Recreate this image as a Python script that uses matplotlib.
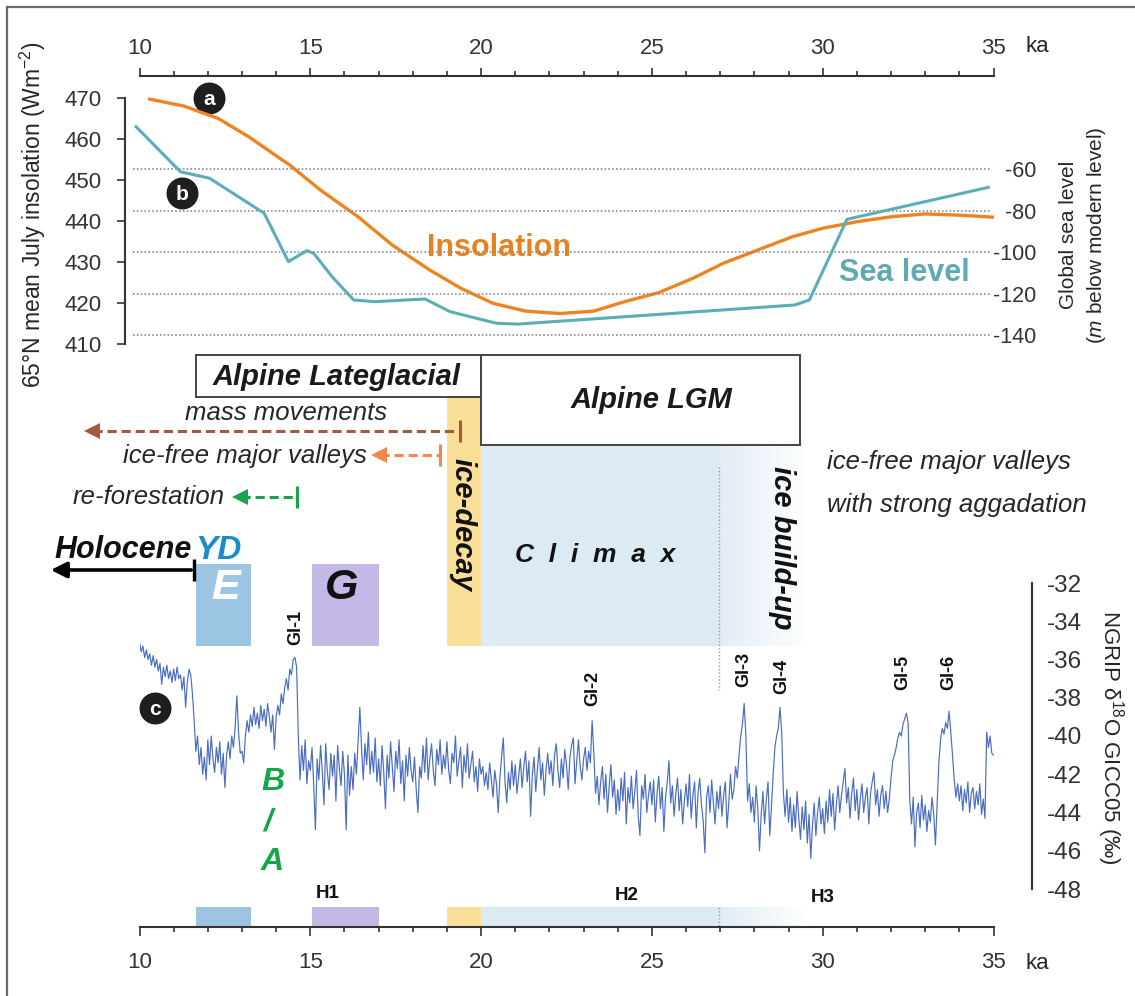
import numpy as np
import matplotlib
matplotlib.use('Agg')
import matplotlib.pyplot as plt
from matplotlib.patches import Rectangle
from matplotlib.colors import to_rgb

plt.rcParams['font.family'] = ['Liberation Sans', 'DejaVu Sans']
plt.rcParams['mathtext.fontset'] = 'custom'
plt.rcParams['mathtext.rm'] = 'Liberation Sans'
plt.rcParams['mathtext.it'] = 'Liberation Sans:italic'
plt.rcParams['axes.unicode_minus'] = False

# ---- data ----
# (a) 65N July insolation
ins_age = [10.3, 11.3, 12.3, 13.2, 14.4, 15.3, 16.4, 17.4, 18.5, 19.4, 20.35, 21.3, 22.3,
           23.3, 24.2, 25.2, 26.2, 27.1, 28.1, 29.1, 30.0, 31.0, 32.0, 33.0, 34.0, 35.0]
ins_val = [469.8, 468.1, 465.1, 460.6, 453.7, 447.6, 441.1, 434.2, 428.1, 423.7, 420.0, 418.1, 417.5,
           418.1, 420.4, 422.6, 426.1, 429.8, 433.0, 436.2, 438.3, 439.9, 441.1, 441.8, 441.5, 441.0]

# (b) global sea level (m below modern)
sl_age = [9.9, 11.2, 12.05, 13.65, 14.36, 14.9, 15.1, 15.64, 16.27, 16.9, 18.36, 19.09,
          20.45, 21.08, 22.31, 29.18, 29.61, 30.71, 34.85]
sl_val = [-39.5, -61.2, -64.3, -81.2, -104.5, -99.2, -100.5, -111.8, -123.0, -123.8, -122.5, -128.6,
          -134.2, -134.6, -133.2, -125.4, -123.0, -84.1, -68.7]
sea_grid = [-60, -80, -100, -120, -140]

# (c) NGRIP d18O, 0.05 ka steps from 10 ka
ngrip_rows = [
    [-35.1, -35.6, -35.3, -35.9, -35.5, -36.0, -35.7, -36.3, -35.8, -36.4,
     -36.0, -36.6, -36.2, -37.3, -36.4, -36.9, -36.3, -37.0, -36.6, -37.2],
    [-36.5, -37.1, -36.4, -37.0, -36.8, -37.6, -36.9, -38.5, -37.2, -36.5,
     -36.8, -37.8, -39.2, -40.8, -40.0, -41.5, -40.6, -42.0, -41.1, -42.3],
    [-40.2, -41.5, -40.0, -41.2, -41.9, -40.6, -41.4, -40.3, -42.0, -40.9,
     -42.7, -41.0, -40.3, -41.2, -40.0, -40.6, -39.5, -37.9, -39.8, -40.9],
    [-40.8, -41.4, -40.0, -39.2, -39.8, -38.9, -39.5, -38.5, -39.4, -38.8,
     -39.6, -38.4, -39.2, -38.6, -39.5, -38.3, -39.0, -39.8, -38.9, -40.7],
    [-39.0, -38.4, -38.9, -37.8, -38.3, -37.5, -37.0, -37.6, -36.5, -36.8,
     -36.0, -35.9, -36.4, -40.1, -42.3, -40.5, -41.8, -40.2, -42.5, -41.3],
    [-41.8, -40.6, -42.6, -44.9, -41.2, -42.3, -40.5, -41.8, -43.6, -40.4,
     -41.9, -42.8, -40.9, -42.1, -41.0, -43.4, -40.5, -41.7, -42.6, -40.8],
    [-42.0, -44.9, -41.0, -43.1, -41.6, -42.8, -40.9, -42.0, -40.2, -38.5,
     -40.6, -42.3, -40.4, -41.5, -39.8, -42.0, -40.8, -41.9, -40.1, -42.4],
    [-41.2, -42.6, -40.5, -41.9, -43.8, -41.0, -42.2, -40.3, -41.6, -42.9,
     -40.8, -41.7, -40.2, -42.5, -41.3, -43.4, -41.0, -42.1, -40.6, -41.8],
    [-42.4, -41.1, -42.8, -44.0, -41.6, -42.2, -40.5, -41.9, -40.1, -42.3,
     -41.2, -40.4, -41.8, -42.6, -40.7, -41.5, -40.2, -42.0, -41.0, -41.7],
    [-40.3, -41.8, -42.5, -40.9, -41.4, -40.0, -42.1, -41.3, -40.6, -42.7,
     -41.0, -41.9, -40.4, -42.2, -41.5, -40.8, -42.4, -41.6, -42.9, -41.2],
    [-42.0, -41.6, -42.6, -41.9, -42.8, -41.4, -42.3, -43.2, -41.8, -42.5,
     -44.0, -42.2, -41.1, -40.1, -42.4, -43.5, -41.9, -42.8, -41.3, -42.6],
    [-41.5, -43.0, -42.1, -41.2, -42.7, -41.6, -40.8, -42.4, -41.3, -44.2,
     -42.0, -41.1, -42.9, -41.7, -40.6, -42.3, -41.4, -43.1, -41.8, -40.9],
    [-42.0, -41.3, -42.6, -41.0, -40.4, -41.8, -42.7, -41.2, -42.2, -40.7,
     -41.5, -42.8, -41.1, -40.5, -40.1, -42.5, -41.3, -40.2, -41.6, -42.3],
    [-41.2, -40.6, -41.8, -40.8, -41.4, -39.2, -40.9, -43.0, -42.1, -43.6,
     -42.4, -41.6, -43.3, -42.0, -44.0, -42.6, -41.5, -43.2, -42.3, -44.1],
    [-42.8, -43.9, -42.2, -43.4, -41.9, -44.6, -42.7, -43.5, -42.1, -43.8,
     -42.9, -41.8, -44.2, -45.2, -42.6, -43.3, -42.0, -44.0, -43.1, -42.4],
    [-43.6, -42.3, -44.5, -43.0, -42.1, -43.8, -42.7, -45.0, -43.2, -42.4,
     -41.3, -43.5, -42.6, -44.2, -43.0, -42.2, -43.9, -42.8, -44.6, -43.4],
    [-42.5, -43.7, -42.0, -44.3, -43.1, -42.4, -44.8, -43.0, -42.2, -43.6,
     -44.4, -46.1, -43.2, -42.6, -44.0, -42.3, -43.5, -44.6, -42.9, -43.8],
    [-42.6, -44.2, -43.1, -42.4, -44.8, -43.5, -42.0, -43.3, -42.8, -41.6,
     -42.2, -41.0, -40.0, -39.4, -38.3, -39.9, -43.4, -42.5, -44.0, -43.2],
    [-44.5, -42.6, -43.8, -46.0, -44.1, -42.9, -44.6, -43.3, -42.4, -45.2,
     -43.7, -42.0, -40.6, -40.0, -39.6, -38.5, -39.8, -43.0, -44.2, -42.8],
    [-44.5, -43.2, -45.0, -43.6, -44.8, -42.9, -44.3, -45.4, -43.7, -44.9,
     -43.4, -45.6, -44.1, -46.4, -44.7, -43.5, -45.2, -44.0, -43.2, -44.6],
    [-43.8, -45.1, -43.4, -44.5, -42.8, -44.2, -43.0, -44.9, -43.6, -42.6,
     -44.0, -43.1, -42.4, -41.7, -43.5, -42.7, -44.3, -43.0, -42.2, -43.9],
    [-42.8, -44.4, -43.3, -42.5, -44.0, -43.2, -42.7, -44.6, -43.0, -42.4,
     -41.9, -43.6, -42.8, -44.2, -43.1, -42.6, -43.8, -42.9, -44.0, -43.3],
    [-42.2, -41.3, -41.0, -40.6, -40.1, -39.8, -40.0, -39.4, -39.1, -38.8,
     -39.3, -43.4, -44.6, -43.2, -45.8, -44.0, -43.5, -44.8, -43.1, -44.4],
    [-43.6, -45.0, -43.9, -44.5, -43.2, -44.1, -45.7, -43.5, -41.4, -40.2,
     -39.6, -39.9, -39.3, -39.6, -38.7, -39.8, -41.0, -42.3, -43.2, -42.5],
    [-43.4, -42.6, -43.9, -42.8, -43.5, -42.4, -44.0, -43.0, -42.7, -43.8,
     -42.9, -43.6, -42.5, -44.1, -43.3, -44.3, -39.8, -40.6, -40.0, -40.9],
    [-41.0],
]
ngrip_val = [v for row in ngrip_rows for v in row]
ngrip_age = [10 + 0.05 * i for i in range(len(ngrip_val))]

# periods (ka)
e_span = (11.65, 13.25)
g_span = (15.05, 17.0)
decay_span = (19.0, 20.0)
climax_span = (20.0, 26.95)
buildup_end = 29.6
lateglacial_span = (11.65, 20.0)
lgm_span = (20.0, 29.35)

gi_names = ['GI-1', 'GI-2', 'GI-3', 'GI-4', 'GI-5', 'GI-6']
gi_age = [14.58, 23.27, 27.7, 28.8, 32.35, 33.7]
h_names = ['H1', 'H2', 'H3']
h_age = [15.5, 24.25, 30.0]

# colours
c_ins = '#EE8420'
c_sea = '#5BAEB8'
c_e = '#9CC4E3'
c_g = '#C4B8E6'
c_decay = '#F9DF98'
c_climax = '#DCEAF3'
c_txt = '#262626'

W, H = 1135, 996
fig = plt.figure(figsize=(W / 100, H / 100), dpi=100)

X0, PPK = 139.5, 34.16   # pixel of 10 ka, pixels per ka


def kx(p):
    return 10 + (p - X0) / PPK


def box(l, t, r, b):
    return [l / W, 1 - b / H, (r - l) / W, (b - t) / H]


# background layer: ka along x, pixels along y
ax_bg = fig.add_axes([0, 0, 1, 1])
ax_bg.set_xlim(kx(0), kx(W))
ax_bg.set_ylim(H, 0)
ax_bg.axis('off')

# frame
ax_bg.plot([kx(7), kx(W)], [7, 7], color='#6b6b6b', lw=1.6)
ax_bg.plot([kx(7), kx(7)], [7, H], color='#6b6b6b', lw=1.6)


def gradient(ax, x0, x1, y0, y1, color, a0=0.85):
    g = np.zeros((1, 64, 4))
    g[..., :3] = to_rgb(color)
    g[..., 3] = np.linspace(a0, 0, 64)
    ax.imshow(g, extent=(x0, x1, y1, y0), aspect='auto', interpolation='bilinear', zorder=0)


# upper period bands
band_top, band_bot = 564, 646
ax_bg.add_patch(Rectangle((e_span[0], band_top), e_span[1] - e_span[0], band_bot - band_top, color=c_e, lw=0))
ax_bg.add_patch(Rectangle((g_span[0], band_top), g_span[1] - g_span[0], band_bot - band_top, color=c_g, lw=0))
ax_bg.add_patch(Rectangle((decay_span[0], 397), decay_span[1] - decay_span[0], band_bot - 397, color=c_decay, lw=0))
ax_bg.add_patch(Rectangle((climax_span[0], 445), climax_span[1] - climax_span[0], band_bot - 445, color=c_climax, lw=0))
gradient(ax_bg, climax_span[1], buildup_end, 445, band_bot, c_climax)
ax_bg.plot([climax_span[1]] * 2, [467, 690], color='#9a9a9a', lw=1, ls=(0, (1, 1.5)))

# boxes
ax_bg.add_patch(Rectangle((lateglacial_span[0], 355), lateglacial_span[1] - lateglacial_span[0], 42,
                          fc='white', ec='#444444', lw=1.4, zorder=3))
ax_bg.add_patch(Rectangle((lgm_span[0], 355), lgm_span[1] - lgm_span[0], 90,
                          fc='white', ec='#444444', lw=1.4, zorder=3))
ax_bg.text(kx(337), 377, 'Alpine Lateglacial', fontsize=21, weight='bold', style='italic',
           ha='center', va='center', color='#1a1a1a', zorder=4)
ax_bg.text(kx(651), 400, 'Alpine LGM', fontsize=21, weight='bold', style='italic',
           ha='center', va='center', color='#1a1a1a', zorder=4)

# process arrows
arrows = [(kx(83), kx(460), 431, '#A35A3D'),
          (kx(370), kx(440), 455, '#F4884A'),
          (kx(231), kx(297), 497, '#1BA34B')]
for x_tip, x_end, y, col in arrows:
    ax_bg.plot([x_tip + 0.3, x_end], [y, y], color=col, lw=2.2, ls=(0, (3.0, 1.6)))
    ax_bg.plot([x_tip + 0.25], [y], marker='<', ms=12, color=col, mew=0)
    ax_bg.plot([x_end], [y], marker='|', ms=16, mew=2.2, color=col)

ax_bg.text(kx(286), 413, 'mass movements', fontsize=18.5, style='italic', ha='center', va='center', color=c_txt)
ax_bg.text(kx(367), 456, 'ice-free major valleys', fontsize=18.5, style='italic', ha='right', va='center', color=c_txt)
ax_bg.text(kx(225), 497, 're-forestation', fontsize=18.5, style='italic', ha='right', va='center', color=c_txt)
ax_bg.text(kx(827), 462, 'ice-free major valleys', fontsize=18.5, style='italic', ha='left', va='center', color=c_txt)
ax_bg.text(kx(827), 505, 'with strong aggadation', fontsize=18.5, style='italic', ha='left', va='center', color=c_txt)

# Holocene arrow
ax_bg.annotate('', xy=(kx(48), 570), xytext=(kx(194), 570),
               arrowprops=dict(arrowstyle='-|>', color='black', lw=2.6, mutation_scale=24))
ax_bg.plot([kx(194)], [570], marker='|', ms=16, mew=2.4, color='black')
ax_bg.text(kx(54), 550, 'Holocene', fontsize=22, weight='bold', style='italic', ha='left', va='center', color='#111111')
ax_bg.text(kx(195), 550, 'YD', fontsize=24, weight='bold', style='italic', ha='left', va='center', color='#1B8BCB')

ax_bg.text(kx(226), 588, 'E', fontsize=31, weight='bold', style='italic', ha='center', va='center', color='white')
ax_bg.text(kx(342), 588, 'G', fontsize=31, weight='bold', style='italic', ha='center', va='center', color='#111111')
ax_bg.text(kx(463), 525, 'ice-decay', fontsize=21, weight='bold', style='italic', rotation=270,
           ha='center', va='center', color='#111111')
ax_bg.text(kx(595), 555, 'C  l  i  m  a  x', fontsize=19, weight='bold', style='italic',
           ha='center', va='center', color='#111111')
ax_bg.text(kx(782), 548, 'ice build-up', fontsize=21, weight='bold', style='italic', rotation=270,
           ha='center', va='center', color='#111111')

# B/A
for txt, px, py in [('B', 273, 782), ('/', 268, 822), ('A', 272, 862)]:
    ax_bg.text(kx(px), py, txt, fontsize=23, weight='bold', style='italic', ha='center', va='center', color='#15A64A')

# GI and H labels
gi_y = [627, 688, 669, 676, 672, 672]
for name, a, y in zip(gi_names, gi_age, gi_y):
    ax_bg.text(a, y, name, fontsize=13, weight='bold', rotation=90, ha='center', va='center', color='#111111')
for name, a, y in zip(h_names, h_age, [893, 895, 897]):
    ax_bg.text(a, y, name, fontsize=13.5, weight='bold', ha='center', va='center', color='#111111')

# panel letters
for letter, px, py in [('a', 209, 98), ('b', 182, 193), ('c', 155, 708)]:
    ax_bg.plot([kx(px)], [py], 'o', ms=22, color='#1e1e1e')
    ax_bg.text(kx(px), py + 1, letter, fontsize=15, weight='bold', color='white', ha='center', va='center')

# curve labels
ax_bg.text(kx(499), 248, 'Insolation', fontsize=22, weight='bold', color='#E8821E', ha='center', va='center')
ax_bg.text(kx(904), 273, 'Sea level', fontsize=22, weight='bold', color='#5FA9B3', ha='center', va='center')

# axis titles
ax_bg.text(kx(33), 215, '65°N mean July insolation (Wm$^{-2}$)', fontsize=16.5, rotation=90,
           ha='center', va='center', color=c_txt)
ax_bg.text(kx(1068), 235, 'Global sea level', fontsize=15, rotation=90, ha='center', va='center', color=c_txt)
ax_bg.text(kx(1096), 235, '($\\it{m}$ below modern level)', fontsize=15, rotation=90,
           ha='center', va='center', color=c_txt)
ax_bg.text(kx(1110), 737, 'NGRIP δ$^{18}$O GICC05 (‰)', fontsize=16, rotation=270,
           ha='center', va='center', color=c_txt)
ax_bg.text(kx(1037), 46, 'ka', fontsize=16, ha='center', va='center', color=c_txt)
ax_bg.text(kx(1037), 963, 'ka', fontsize=16, ha='center', va='center', color=c_txt)

# ---- (a)/(b) panel ----
ax_ins = fig.add_axes(box(125, 76, 993.5, 344.3))
ax_ins.patch.set_visible(False)
ax_ins.set_xlim(kx(125), 35)
ax_ins.set_ylim(410, 475.44)
for s in ['right', 'bottom']:
    ax_ins.spines[s].set_visible(False)
ax_ins.spines['top'].set_bounds(10, 35)
ax_ins.spines['left'].set_bounds(410, 470)
for s in ['top', 'left']:
    ax_ins.spines[s].set_linewidth(1.5)
    ax_ins.spines[s].set_color('#333333')
ax_ins.xaxis.tick_top()
ax_ins.set_xticks(range(10, 36, 5))
ax_ins.set_xticks(range(10, 36), minor=True)
ax_ins.set_yticks(range(410, 471, 10))
ax_ins.tick_params(axis='x', which='major', length=6, width=1.2, pad=6, labelsize=16, colors='#333333')
ax_ins.tick_params(axis='x', which='minor', length=3.5, width=1.2, colors='#333333')
ax_ins.tick_params(axis='y', length=6, width=1.2, pad=11, labelsize=16, colors='#333333')
ax_ins.plot(ins_age, ins_val, color=c_ins, lw=2.4, zorder=3)

ax_sl = ax_ins.twinx()
ax_sl.set_ylim(-144.34, -15.04)
for s in ax_sl.spines.values():
    s.set_visible(False)
ax_sl.set_yticks(sea_grid)
ax_sl.set_yticklabels([str(v) for v in sea_grid], ha='right')
ax_sl.tick_params(axis='y', length=0, pad=31, labelsize=15.5, colors='#333333')
ax_sl.hlines(sea_grid, kx(133), kx(991), colors='#8c8c8c', linestyles=(0, (1, 1.3)), lw=1.2, zorder=1)
ax_sl.plot(sl_age, sl_val, color=c_sea, lw=2.2, zorder=2)

# ---- (c) NGRIP panel ----
ax_ng = fig.add_axes(box(X0, 583, 1031.7, 889))
ax_ng.patch.set_visible(False)
ax_ng.set_xlim(10, kx(1031.7))
ax_ng.set_ylim(-48, -32)
for s in ['left', 'top', 'bottom']:
    ax_ng.spines[s].set_visible(False)
ax_ng.spines['right'].set_linewidth(1.5)
ax_ng.spines['right'].set_color('#333333')
ax_ng.xaxis.set_visible(False)
ax_ng.yaxis.tick_right()
ax_ng.set_yticks(range(-48, -31, 2))
ax_ng.tick_params(axis='y', length=0, pad=11, labelsize=17.5, colors='#333333')
ax_ng.plot(ngrip_age, ngrip_val, color='#4A6DC0', lw=0.85)

# ---- bottom ka axis with period bars ----
ax_b = fig.add_axes(box(X0, 907, 993.5, 926.7))
ax_b.patch.set_visible(False)
ax_b.set_xlim(10, 35)
ax_b.set_ylim(0, 1)
for s in ['left', 'top', 'right']:
    ax_b.spines[s].set_visible(False)
ax_b.spines['bottom'].set_linewidth(1.5)
ax_b.spines['bottom'].set_color('#333333')
ax_b.set_yticks([])
ax_b.set_xticks(range(10, 36, 5))
ax_b.set_xticks(range(10, 36), minor=True)
ax_b.tick_params(axis='x', which='major', length=6.5, width=1.2, pad=12, labelsize=16, colors='#333333')
ax_b.tick_params(axis='x', which='minor', length=3.5, width=1.2, colors='#333333')
for span, col in [(e_span, c_e), (g_span, c_g), (decay_span, c_decay), (climax_span, c_climax)]:
    ax_b.add_patch(Rectangle((span[0], 0.06), span[1] - span[0], 0.94, color=col, lw=0))
gradient(ax_b, climax_span[1], buildup_end, 1.0, 0.06, c_climax)
ax_b.set_xlim(10, 35)
ax_b.set_ylim(0, 1)
ax_b.plot([climax_span[1]] * 2, [0.06, 1], color='#9a9a9a', lw=1, ls=(0, (1, 1.5)))

ax_bg.set_xlim(kx(0), kx(W))
ax_bg.set_ylim(H, 0)

fig.savefig('out.png', dpi=100)
